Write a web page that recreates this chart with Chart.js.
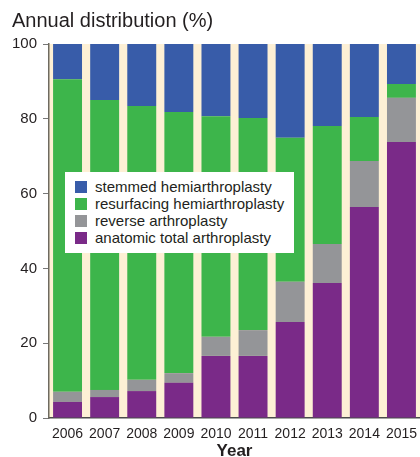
<!DOCTYPE html>
<html>
<head>
<meta charset="utf-8">
<script src="https://cdn.jsdelivr.net/npm/chart.js@4.4.0/dist/chart.umd.min.js"></script>
<style>
  html, body { margin: 0; padding: 0; background: #fff; }
  #wrap { position: relative; width: 420px; height: 457px; overflow: hidden; font-family: 'Liberation Sans', Arial, sans-serif; color: #231f20; }
  #title { position: absolute; left: 12px; top: 8px; font-size: 20px; line-height: 24px; white-space: nowrap; }
  #legend { position: absolute; left: 65px; top: 172px; width: 229px; height: 81px; background: #fff; box-sizing: border-box; padding: 6px 0 0 10px; }
  #legend div { height: 17px; line-height: 17px; font-size: 15px; white-space: nowrap; }
  #legend span { display: inline-block; width: 12px; height: 12px; margin-right: 8px; vertical-align: -1px; }
</style>
</head>
<body>
<div id="wrap">
  <canvas id="chart" width="420" height="457"></canvas>
  <div id="title">Annual distribution (%)</div>
  <div id="legend"></div>
</div>
<script>
// 年ごとの割合（%）。下から順に積む
const years = ['2006', '2007', '2008', '2009', '2010', '2011', '2012', '2013', '2014', '2015'];
const anatomic    = [4.3, 5.6, 7.2, 9.4, 16.6, 16.6, 25.7, 36.1, 56.4, 73.8];
const reverse     = [2.7, 1.9, 3.0, 2.6, 5.1, 6.9, 10.7, 10.4, 12.3, 11.8];
const resurfacing = [83.6, 77.5, 73.2, 69.8, 59.0, 56.7, 38.5, 31.6, 11.8, 3.7];
const stemmed     = [9.4, 15.0, 16.6, 18.2, 19.3, 19.8, 25.1, 21.9, 19.5, 10.7];
const yTicks = [0, 20, 40, 60, 80, 100];

const COLORS = {
  stemmed: '#385ca9',
  resurfacing: '#3db54b',
  reverse: '#949598',
  anatomic: '#7a2a88'
};

const datasets = [
  { label: 'anatomic total arthroplasty', data: anatomic, backgroundColor: COLORS.anatomic },
  { label: 'reverse arthroplasty', data: reverse, backgroundColor: COLORS.reverse },
  { label: 'resurfacing hemiarthroplasty', data: resurfacing, backgroundColor: COLORS.resurfacing },
  { label: 'stemmed hemiarthroplasty', data: stemmed, backgroundColor: COLORS.stemmed }
];

// プロット領域だけクリーム色
const areaBg = {
  id: 'areaBg',
  beforeDraw(chart) {
    const { ctx, chartArea: a } = chart;
    ctx.save();
    ctx.fillStyle = '#fdf0d5';
    ctx.fillRect(a.left, a.top, a.right - a.left, a.bottom - a.top);
    ctx.restore();
  }
};

const FONT = "'Liberation Sans', Arial, sans-serif";

const chart = new Chart(document.getElementById('chart'), {
  type: 'bar',
  data: { labels: years, datasets },
  options: {
    responsive: false,
    animation: false,
    devicePixelRatio: 1,
    layout: { padding: { top: 44, right: 0, bottom: 0, left: 0 } },
    datasets: { bar: { barPercentage: 0.78, categoryPercentage: 1, borderWidth: 0 } },
    plugins: { legend: { display: false }, tooltip: { enabled: false } },
    scales: {
      x: {
        stacked: true,
        afterFit: s => { s.height = 39; s.paddingLeft = 0; s.paddingRight = 0; },
        grid: { drawOnChartArea: false, drawTicks: false },
        border: { display: true, color: '#4a4a4a', width: 1.5 },
        ticks: {
          color: '#231f20', padding: 8, autoSkip: false, maxRotation: 0, minRotation: 0,
          font: { family: FONT, size: 14 }
        },
        title: {
          display: true, text: 'Year', color: '#231f20',
          padding: { top: 0, bottom: -1.5 },
          font: { family: FONT, size: 17, weight: 'bold', lineHeight: 0.8 }
        }
      },
      y: {
        stacked: true, min: 0, max: 100,
        afterFit: s => { s.width = 49; },
        afterBuildTicks: s => { s.ticks = yTicks.map(v => ({ value: v })); },
        grid: { drawOnChartArea: false, drawTicks: true, tickLength: 6, color: '#777' },
        border: { display: true, color: '#6e6a60', width: 1.5 },
        ticks: { color: '#231f20', padding: 6, font: { family: FONT, size: 15 } }
      }
    }
  },
  plugins: [areaBg]
});

// 凡例は上から stemmed → anatomic の順
const legend = document.getElementById('legend');
[...datasets].reverse().forEach(d => {
  const row = document.createElement('div');
  row.innerHTML = '<span style="background:' + d.backgroundColor + '"></span>' + d.label;
  legend.appendChild(row);
});
</script>
</body>
</html>
